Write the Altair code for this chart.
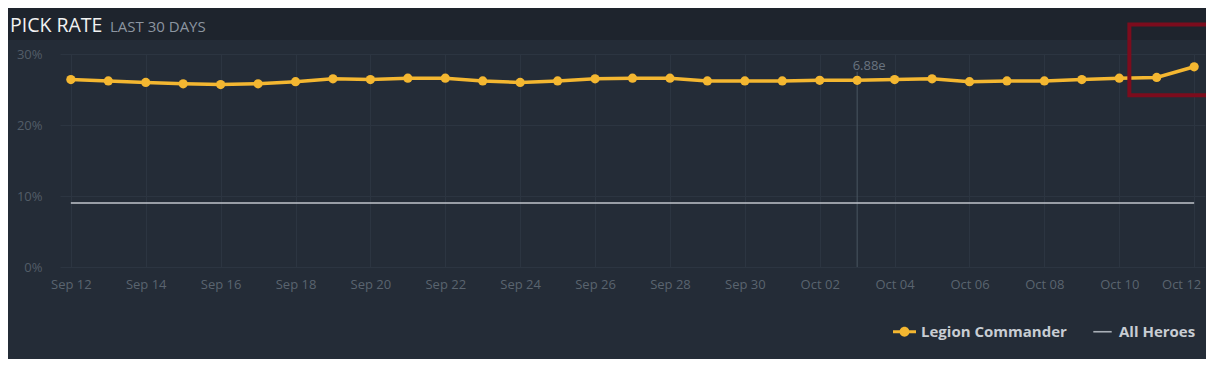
import json
import altair as alt
import pandas as pd

# ---------------- data ----------------
dates = ["Sep 12", "Sep 13", "Sep 14", "Sep 15", "Sep 16", "Sep 17", "Sep 18",
         "Sep 19", "Sep 20", "Sep 21", "Sep 22", "Sep 23", "Sep 24", "Sep 25",
         "Sep 26", "Sep 27", "Sep 28", "Sep 29", "Sep 30", "Oct 01", "Oct 02",
         "Oct 03", "Oct 04", "Oct 05", "Oct 06", "Oct 07", "Oct 08", "Oct 09",
         "Oct 10", "Oct 11", "Oct 12"]
legion_commander = [26.4, 26.2, 26.0, 25.8, 25.7, 25.8, 26.1, 26.5, 26.4, 26.6,
                    26.6, 26.2, 26.0, 26.2, 26.5, 26.6, 26.6, 26.2, 26.2, 26.2,
                    26.3, 26.3, 26.4, 26.5, 26.1, 26.2, 26.2, 26.4, 26.6, 26.7,
                    28.2]
all_heroes = [9.0, 9.0, 9.0, 9.0, 9.0, 9.0, 9.0, 9.0, 9.0, 9.0, 9.0, 9.0, 9.0,
              9.0, 9.0, 9.0, 9.0, 9.0, 9.0, 9.0, 9.0, 9.0, 9.0, 9.0, 9.0, 9.0,
              9.0, 9.0, 9.0, 9.0, 9.0]
series_names = ["Legion Commander", "All Heroes"]
y_ticks = [0, 10, 20, 30]
patch_date = "Oct 03"
patch_name = "6.88e"
patch_rule_top = 27.5
patch_label_level = 27.8
highlight_box = {"x1": 28.27, "x2": 31.0, "y1": 24.2, "y2": 34.15}
title_main = "PICK RATE"
title_sub = "LAST 30 DAYS"

# ---------------- styling ----------------
BG = "#242c37"
HEADER = "#1e242d"
GRID = "#2c3541"
YELLOW = "#f4b731"
GRAYLINE = "#c0c5cc"
FONT = "Open Sans"

idx = list(range(len(dates)))
lc_df = pd.DataFrame({"i": idx, "v": legion_commander, "d": dates})
ah_df = pd.DataFrame({"i": idx, "v": all_heroes, "d": dates})
patch_i = dates.index(patch_date)
patch_df = pd.DataFrame({"i": [patch_i], "v0": [0.0], "v": [patch_rule_top],
                         "vl": [patch_label_level], "label": [patch_name]})
box_df = pd.DataFrame([highlight_box])
legend_df = pd.DataFrame({"series": series_names, "i": [0, 0], "v": [float("nan"), float("nan")]})

xscale = alt.Scale(domain=[-0.29, len(dates) - 1 + 0.29], nice=False, zero=False)
yscale = alt.Scale(domain=[0, 30], nice=False, zero=False)

label_arr = json.dumps(dates)
xaxis = alt.Axis(
    values=list(range(0, len(dates), 2)),
    labelExpr=f"{label_arr}[datum.value]",
    grid=True, gridColor=GRID, gridWidth=1,
    domain=False, ticks=False,
    labelColor="#5a646f", labelFont=FONT, labelFontSize=13,
    labelPadding=11, labelFlush=False, labelOverlap=False,
    labelOffset={"condition": {"test": f"datum.value == {len(dates) - 1}", "value": -13}, "value": 0},
    title=None,
)
yaxis = alt.Axis(
    values=y_ticks,
    labelExpr="datum.value + '%'",
    grid=True, gridColor=GRID, gridWidth=1,
    domain=False, ticks=False,
    labelColor="#535d68", labelFont=FONT, labelFontSize=13,
    labelPadding=18, title=None,
)


def X(field):
    return alt.X(field, type="quantitative", scale=xscale, axis=xaxis)


def Y(field):
    return alt.Y(field, type="quantitative", scale=yscale, axis=yaxis)


header = alt.Chart(pd.DataFrame({"k": [0]})).mark_rect(color=HEADER).encode(
    x=alt.value(-60), x2=alt.value(1200), y=alt.value(-60), y2=alt.value(-14)
)

title1 = alt.Chart(pd.DataFrame({"t": [title_main]})).mark_text(
    align="left", baseline="alphabetic", font=FONT, fontSize=19.5, color="#f2f2f2"
).encode(x=alt.value(-50), y=alt.value(-22), text="t:N")

title2 = alt.Chart(pd.DataFrame({"t": [title_sub]})).mark_text(
    align="left", baseline="alphabetic", font=FONT, fontSize=15, color="#8c95a0"
).encode(x=alt.value(50), y=alt.value(-22), text="t:N")

patch_rule = alt.Chart(patch_df).mark_rule(color="#4a5562", strokeWidth=1).encode(
    x=X("i"), y=Y("v0"), y2="v"
)
patch_text = alt.Chart(patch_df).mark_text(
    baseline="alphabetic", align="center", dx=12, font=FONT, fontSize=13, color="#6a7480"
).encode(x=X("i"), y=Y("vl"), text="label:N")

ah_line = alt.Chart(ah_df).mark_line(color=GRAYLINE, strokeWidth=1.5).encode(
    x=X("i"), y=Y("v")
)
lc_line = alt.Chart(lc_df).mark_line(color=YELLOW, strokeWidth=3.5).encode(
    x=X("i"), y=Y("v")
)
lc_pts = alt.Chart(lc_df).mark_circle(color=YELLOW, size=85, opacity=1).encode(
    x=X("i"), y=Y("v")
)

box = alt.Chart(box_df).mark_rect(filled=False, stroke="#7c0c1d", strokeWidth=4).encode(
    x=X("x1"), x2="x2", y=Y("y1"), y2="y2"
)

lc_shape = ("M-1,-0.13 L1,-0.13 L1,0.13 L-1,0.13 Z "
            "M-0.43,0 A0.43,0.43 0 1,1 0.43,0 A0.43,0.43 0 1,1 -0.43,0 Z")
ah_shape = "M-0.8,-0.07 L0.8,-0.07 L0.8,0.07 L-0.8,0.07 Z"

legend_props = dict(
    orient="none", legendX=833, legendY=266, direction="horizontal",
    title=None, columns=2, columnPadding=24, labelOffset=5,
    symbolSize=529, symbolStrokeWidth=0, symbolOpacity=1,
    labelColor="#c8cdd3", labelFont=FONT, labelFontSize=15,
    labelFontWeight="bold", padding=0,
)

legend_layer = alt.Chart(legend_df).mark_point(filled=True, opacity=1).encode(
    x=X("i"), y=Y("v"),
    color=alt.Color("series:N", scale=alt.Scale(domain=series_names, range=[YELLOW, "#a9afb7"]),
                    legend=alt.Legend(**legend_props)),
    shape=alt.Shape("series:N", scale=alt.Scale(domain=series_names, range=[lc_shape, ah_shape]),
                    legend=alt.Legend(**legend_props)),
)

chart = alt.layer(
    header, title1, title2, patch_rule, patch_text, ah_line, lc_line, lc_pts, box, legend_layer
).properties(
    width=1145, height=213,
    autosize=alt.AutoSizeParams(type="none"),
    padding={"left": 52, "top": 46, "right": 1, "bottom": 92},
    background=BG,
).configure_view(stroke=None).configure_axis(
    gridColor=GRID
)

chart.save("out.html", embed_options={"renderer": "svg", "actions": False})
